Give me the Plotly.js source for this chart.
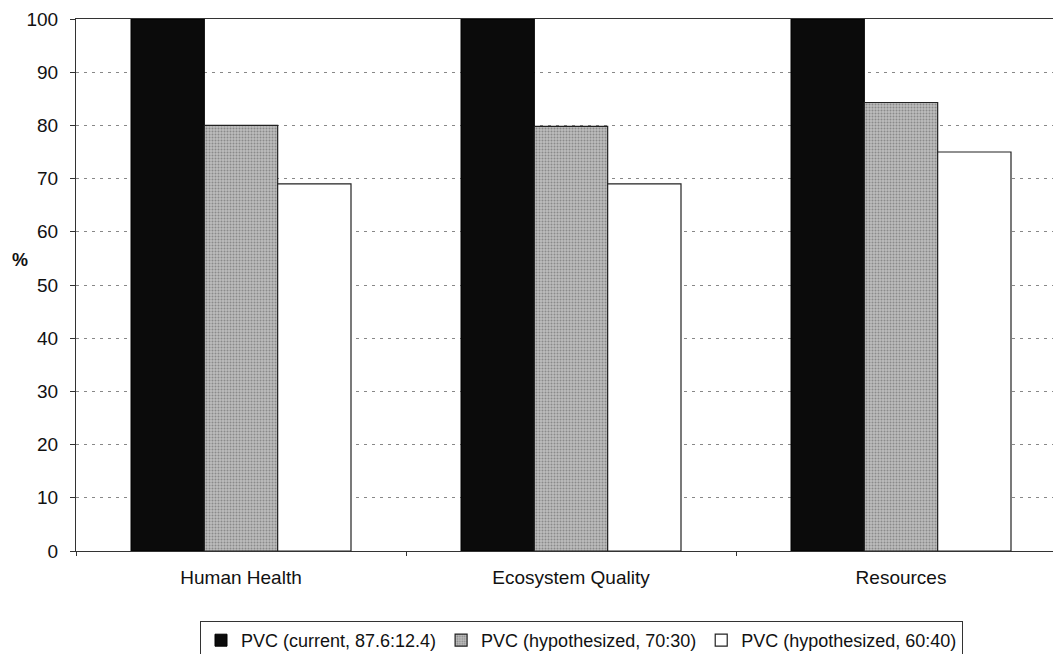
<!DOCTYPE html>
<html>
<head>
<meta charset="utf-8">
<script src="https://cdn.plot.ly/plotly-3.0.1.min.js"></script>
<style>html,body{margin:0;padding:0;background:#fff;}#chart{width:1053px;height:654px;}</style>
</head>
<body>
<div id="chart"></div>
<script>
const categories = ["Human Health", "Ecosystem Quality", "Resources"];
const seriesNames = ["PVC (current, 87.6:12.4)", "PVC (hypothesized, 70:30)", "PVC (hypothesized, 60:40)"];
const current876 = [100, 100, 100];
const hypo7030 = [80, 79.8, 84.3];
const hypo6040 = [69, 69, 75];
const yTicks = [0, 10, 20, 30, 40, 50, 60, 70, 80, 90, 100];

const font = "Liberation Sans, Arial, sans-serif";

const traces = [
  {
    type: "bar", name: seriesNames[0], x: categories, y: current876,
    marker: {color: "#0b0b0b", line: {color: "#000", width: 1}}
  },
  {
    type: "bar", name: seriesNames[1], x: categories, y: hypo7030,
    marker: {color: "#b4b4b4", line: {color: "#222", width: 1.2},
      pattern: {shape: ".", fgcolor: "#8a8a8a", bgcolor: "#bdbdbd", size: 3, solidity: 0.35}}
  },
  {
    type: "bar", name: seriesNames[2], x: categories, y: hypo6040,
    marker: {color: "#ffffff", line: {color: "#222", width: 1.2}}
  }
];

const layout = {
  width: 1053, height: 654,
  margin: {l: 76, r: 0, t: 19, b: 103, autoexpand: false},
  paper_bgcolor: "#fff", plot_bgcolor: "#fff",
  font: {family: font, color: "#111", size: 18},
  barmode: "group", bargap: 1/3, bargroupgap: 0,
  showlegend: true,
  hovermode: false,
  xaxis: {
    type: "category",
    range: [-0.5, -0.5 + 977/330],
    showline: true, linecolor: "#333", linewidth: 1, mirror: true,
    ticks: "outside", tickson: "boundaries", ticklen: 4, tickcolor: "#333",
    tickfont: {family: font, size: 19, color: "#111"},
    ticklabelstandoff: 9, automargin: false,
    showgrid: false, zeroline: false, fixedrange: true
  },
  yaxis: {
    range: [0, 100], tickvals: yTicks, ticktext: yTicks.map(String),
    showline: true, linecolor: "#333", linewidth: 1,
    ticks: "outside", ticklen: 5, tickcolor: "#333",
    tickfont: {family: font, size: 19, color: "#111"},
    ticklabelstandoff: 8, automargin: false,
    showgrid: true, gridcolor: "#888", griddash: "3px,5px", gridwidth: 1,
    zeroline: false, fixedrange: true
  },
  legend: {
    orientation: "h", x: (200 - 76) / 977, xanchor: "left",
    y: (551 - 621) / 532, yanchor: "top",
    bordercolor: "#333", borderwidth: 1, bgcolor: "#fff",
    font: {family: font, size: 18, color: "#111"},
    itemwidth: 30, traceorder: "normal"
  },
  annotations: [
    {text: "%", xref: "paper", yref: "paper", x: (20 - 76) / 977, y: (551 - 260) / 532,
     xanchor: "center", yanchor: "middle", showarrow: false,
     font: {family: font, size: 18, color: "#111", weight: "bold"}}
  ]
};

Plotly.newPlot("chart", traces, layout, {displayModeBar: false, staticPlot: true});
</script>
</body>
</html>
